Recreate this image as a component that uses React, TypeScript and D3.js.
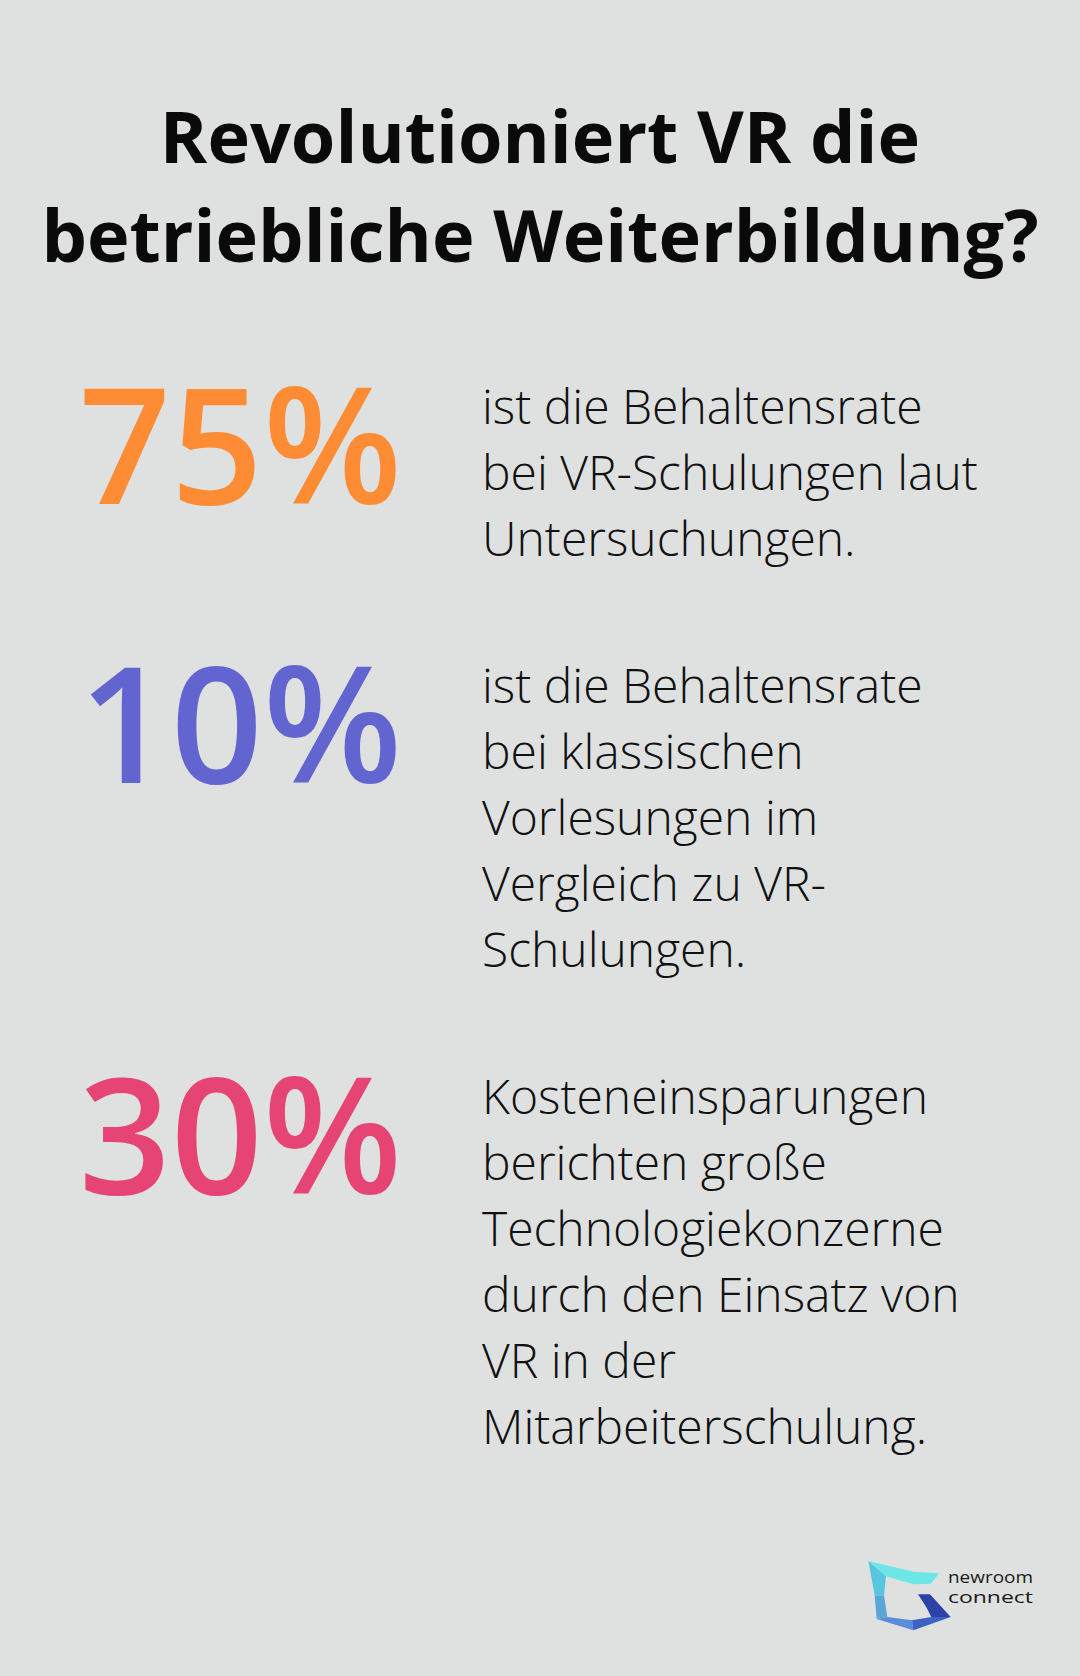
import * as React from "react";
import { useRef, useEffect } from "react";
import * as d3 from "d3";

const titleLines = ["Revolutioniert VR die", "betriebliche Weiterbildung?"];

const statValues = [75, 10, 30];
const statColors = ["#FE8C35", "#6264D0", "#E54474"];
const statTexts = [
  ["ist die Behaltensrate", "bei VR-Schulungen laut", "Untersuchungen."],
  [
    "ist die Behaltensrate",
    "bei klassischen",
    "Vorlesungen im",
    "Vergleich zu VR-",
    "Schulungen.",
  ],
  [
    "Kosteneinsparungen",
    "berichten große",
    "Technologiekonzerne",
    "durch den Einsatz von",
    "VR in der",
    "Mitarbeiterschulung.",
  ],
];

const logoWords = ["newroom", "connect"];

export default function App() {
  const _parentRef = useRef(null);
  useEffect(() => {
    const parentRef = _parentRef.current;
    document.body.style.margin = "0";
    const width = 1080;
    const height = 1676;
    parentRef.innerHTML = "";

    const svg = d3
      .select(parentRef)
      .append("svg")
      .attr("width", width)
      .attr("height", height)
      .style("display", "block");

    svg
      .append("rect")
      .attr("width", width)
      .attr("height", height)
      .attr("fill", "#DFE1E0");

    // title
    svg
      .append("g")
      .selectAll("text")
      .data(titleLines)
      .join("text")
      .attr("x", width / 2)
      .attr("y", (d, i) => 163 + i * 99)
      .attr("text-anchor", "middle")
      .style("font-family", "'Open Sans', sans-serif")
      .style("font-weight", 700)
      .style("font-size", "72px")
      .attr("fill", "#0a0a0a")
      .text((d) => d);

    // line position scale: global line index -> baseline
    const lineStep = 66;
    const blockGap = 81;
    let start = 0;
    const blocks = statTexts.map((lines, i) => {
      const b = { start, lines, i };
      start += lines.length;
      return b;
    });
    const lineY = d3
      .scaleLinear()
      .domain([0, 1])
      .range([424, 424 + lineStep]);
    const y = (lineIdx, blockIdx) => lineY(lineIdx) + blockIdx * blockGap;

    const rows = svg
      .append("g")
      .selectAll("g")
      .data(blocks)
      .join("g");

    rows
      .append("text")
      .attr("x", 402)
      .attr("y", (d) => y(d.start, d.i) + 80)
      .attr("text-anchor", "end")
      .style("font-family", "'Open Sans', sans-serif")
      .style("font-weight", 600)
      .style("font-size", "161px")
      .attr("fill", (d) => statColors[d.i])
      .text((d) => `${statValues[d.i]}%`);

    rows
      .selectAll("text.desc")
      .data((d) => d.lines.map((t, j) => ({ t, j, d })))
      .join("text")
      .attr("class", "desc")
      .attr("x", 482)
      .attr("y", (e) => y(e.d.start + e.j, e.d.i))
      .style("font-family", "'Open Sans', sans-serif")
      .style("font-weight", 300)
      .style("font-size", "48px")
      .attr("fill", "#111")
      .text((e) => e.t);

    // logo
    const lx = (v) => 860 + v / 3;
    const ly = (v) => 1555 + v / 3;
    const logoParts = [
      { c: "#6DE6E8", p: [[25, 18], [160, 50], [238, 55], [212, 86], [160, 88], [78, 64]] },
      { c: "#58C6DF", p: [[25, 18], [78, 64], [72, 122], [44, 122]] },
      { c: "#5AA6D6", p: [[44, 122], [72, 122], [82, 186], [50, 192]] },
      { c: "#5B8CD8", p: [[50, 192], [82, 186], [156, 196], [160, 226]] },
      { c: "#3D62C6", p: [[156, 196], [214, 186], [272, 186], [160, 226]] },
      { c: "#2C42A6", p: [[174, 118], [210, 118], [272, 186], [214, 186], [200, 158]] },
    ];
    const line = d3
      .line()
      .x((d) => lx(d[0]))
      .y((d) => ly(d[1]))
      .curve(d3.curveLinearClosed);
    svg
      .append("g")
      .selectAll("path")
      .data(logoParts)
      .join("path")
      .attr("d", (d) => line(d.p))
      .attr("fill", (d) => d.c);

    svg
      .append("g")
      .selectAll("text")
      .data(logoWords)
      .join("text")
      .attr("x", 948)
      .attr("y", (d, i) => 1583 + i * 20)
      .attr("textLength", 85)
      .attr("lengthAdjust", "spacingAndGlyphs")
      .style("font-family", "'Open Sans', sans-serif")
      .style("font-weight", 400)
      .style("font-size", "16px")
      .attr("fill", "#1a1a1a")
      .text((d) => d);
  }, []);

  return <div ref={_parentRef}></div>;
}
